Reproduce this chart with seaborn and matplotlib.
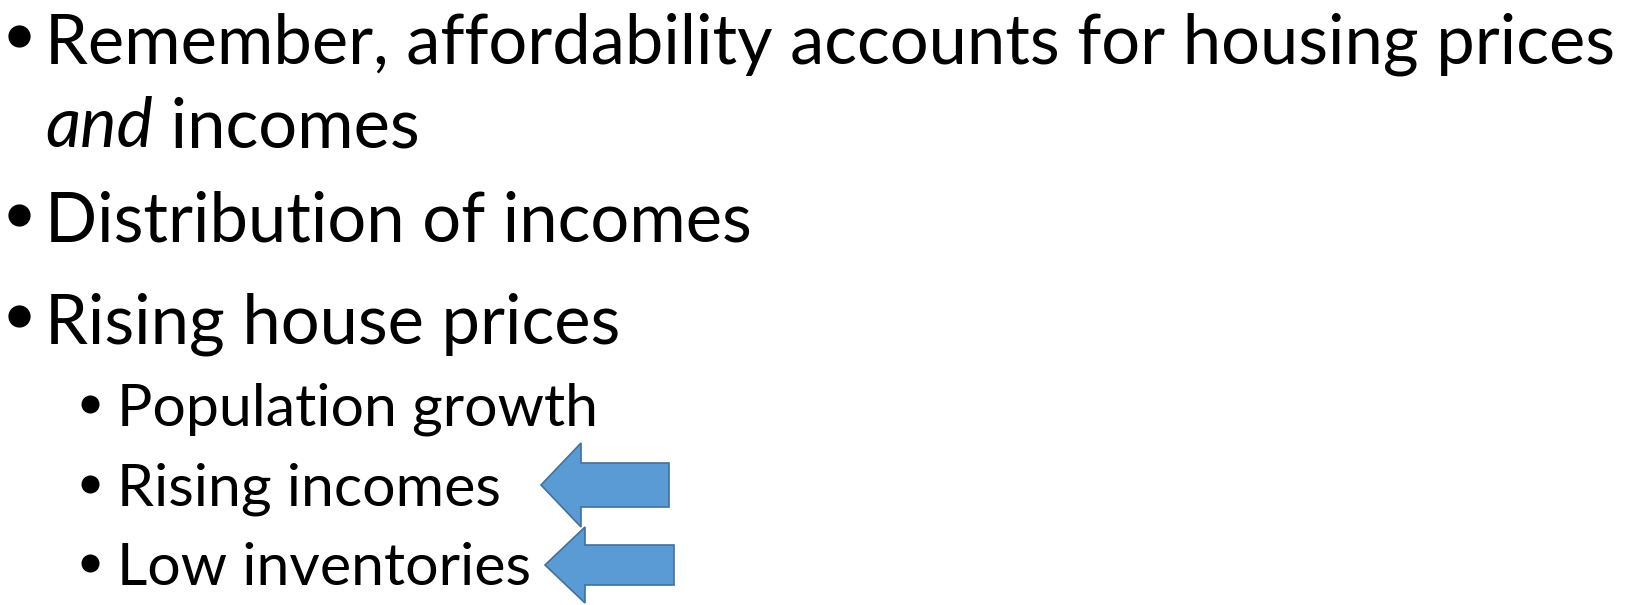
import matplotlib.pyplot as plt
import seaborn as sns

# Slide text
main_points = ["Remember, affordability accounts for housing prices",
               "Distribution of incomes",
               "Rising house prices"]
wrap_italic = "and"
wrap_rest = " incomes"
sub_points = ["Population growth", "Rising incomes", "Low inventories"]
arrow_rows = ["Rising incomes", "Low inventories"]

# layout (pixels, y measured from the top)
main_baselines = [63, 242, 343]
wrap_baseline = 147
sub_baselines = [426, 506, 585]
arrow_tip_x = [541, 545]
arrow_tail_x = [669, 674]
arrow_mid_y = [485, 565]
arrow_width = [44, 40]

sns.set_theme(style="white")
plt.rcParams["font.family"] = ["Lato", "DejaVu Sans"]

fig = plt.figure(figsize=(16.35, 6.05), dpi=100)
ax = fig.add_axes([0, 0, 1, 1])
ax.set_xlim(0, 1635)
ax.set_ylim(605, 0)
ax.axis("off")

main_size = 49.4
sub_size = 42.5

# main bullets
for text, y in zip(main_points, main_baselines):
    ax.text(45, y, text, fontsize=main_size, va="baseline", ha="left", color="black")
ax.plot([19] * 3, [b - 27 for b in main_baselines], "o", markersize=16,
        color="black", markeredgewidth=0, zorder=5)

# wrapped second line of first bullet, "and" in italic
t_and = ax.text(45, wrap_baseline, wrap_italic, fontsize=main_size, style="italic",
                va="baseline", ha="left", color="black")
ax.annotate(wrap_rest, xy=(1, wrap_baseline), xycoords=(t_and, "data"),
            fontsize=main_size, va="baseline", ha="left", color="black")

# sub bullets
for text, y in zip(sub_points, sub_baselines):
    ax.text(117, y, text, fontsize=sub_size, va="baseline", ha="left", color="black")
ax.plot([90] * 3, [b - 22 for b in sub_baselines], "o", markersize=13,
        color="black", markeredgewidth=0, zorder=5)

# arrows pointing at the last two sub bullets
for tip, tail, y, w in zip(arrow_tip_x, arrow_tail_x, arrow_mid_y, arrow_width):
    ax.arrow(tail, y, tip - tail, 0, width=w, head_width=2 * w - 4, head_length=40,
             length_includes_head=True, facecolor="#5B9BD5", edgecolor="#41719C",
             linewidth=1.2)

fig.savefig("out.png", dpi=100)
